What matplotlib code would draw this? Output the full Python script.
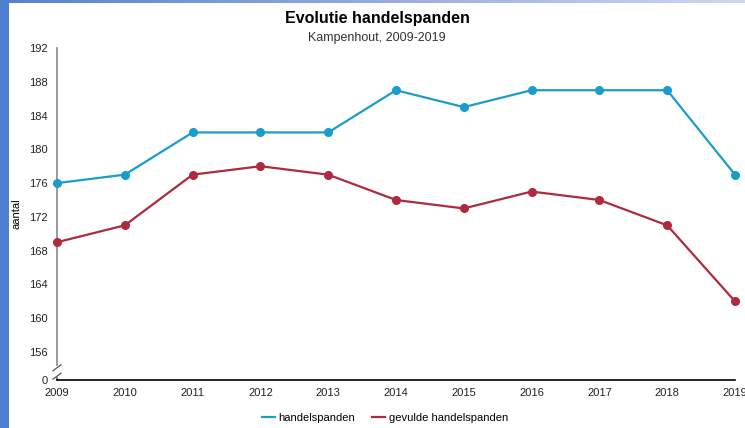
import numpy as np
import matplotlib
matplotlib.use('Agg')
import matplotlib.pyplot as plt
from matplotlib.patches import Rectangle

# Data
years = [2009, 2010, 2011, 2012, 2013, 2014, 2015, 2016, 2017, 2018, 2019]
handelspanden = [176, 177, 182, 182, 182, 187, 185, 187, 187, 187, 177]
gevuld = [169, 171, 177, 178, 177, 174, 173, 175, 174, 171, 162]
ytick_vals = [156, 160, 164, 168, 172, 176, 180, 184, 188, 192]

blue = '#1a9dcb'
red = '#ae2a3e'

W, H = 745, 428
fig = plt.figure(figsize=(W / 100, H / 100), dpi=100)
fig.patch.set_facecolor('white')

# frame decoration: blue left strip, gradient top strip
fig.patches.append(Rectangle((0, 0), 9 / W, 1, transform=fig.transFigure,
                             facecolor='#4f7fcf', edgecolor='none', zorder=0))
grad_ax = fig.add_axes([9 / W, 1 - 3 / H, 1 - 9 / W, 3 / H])
grad_ax.imshow(np.linspace(0, 1, 256).reshape(1, -1), aspect='auto',
               cmap=matplotlib.colors.LinearSegmentedColormap.from_list('g', ['#5a80d0', '#cdd8f0']))
grad_ax.axis('off')

# axes: x 2009 at px 57, 2019 at px 735; y 192 at px 48, axis bottom at px 380
left, right = 57, 735
top, bottom = 48, 380
aw = right - left
ax = fig.add_axes([left / W, 1 - bottom / H, aw / W, (bottom - top) / H])

px_per_unit = (352 - 48) / 36.0
y_zero = 156 - (380 - 352) / px_per_unit  # broken axis: 0 shown here

ax.plot(years, handelspanden, color=blue, lw=1.6, marker='o', ms=5.5, clip_on=False,
        label='handelspanden', zorder=3)
ax.plot(years, gevuld, color=red, lw=1.6, marker='o', ms=5.5, clip_on=False,
        label='gevulde handelspanden', zorder=3)

ax.set_xlim(2009, 2019)
ax.set_ylim(y_zero, 192)
ax.set_xticks(years)
ax.set_xticklabels([str(y) for y in years], fontsize=8, family='Liberation Sans', color='#222222')
ax.set_yticks([y_zero] + ytick_vals)
ax.set_yticklabels(['0'] + [str(v) for v in ytick_vals], fontsize=8, family='Liberation Sans', color='#222222')
ax.tick_params(axis='both', length=0, pad=6)
ax.tick_params(axis='y', pad=6.5)

for s in ['top', 'right']:
    ax.spines[s].set_visible(False)
ax.spines['bottom'].set_color('black')
ax.spines['bottom'].set_linewidth(1.2)
ax.spines['left'].set_color('#888888')
ax.spines['left'].set_linewidth(1.2)
ax.spines['left'].set_bounds(y_zero + 1.75, 192)

# break marks on y axis (pixel-sized offsets)
dx = 4.0 / aw
dy = 3.0 / px_per_unit
for yb in [y_zero + 0.45, y_zero + 1.45]:
    ax.plot([-dx, dx], [yb - dy, yb + dy], transform=ax.get_yaxis_transform(),
            color='#555555', lw=0.9, clip_on=False)
ax.plot([0, 0], [y_zero, y_zero + 0.2], transform=ax.get_yaxis_transform(),
        color='#555555', lw=1.2, clip_on=False)

ax.set_ylabel('aantal', fontsize=8, family='Liberation Sans')
ax.yaxis.set_label_coords(-36 / aw, 0.5)

fig.text(377 / W, 1 - 18 / H, 'Evolutie handelspanden', ha='center', va='center',
         fontsize=11.5, fontweight='bold', family='Liberation Sans')
fig.text(377 / W, 1 - 38 / H, 'Kampenhout, 2009-2019', ha='center', va='center',
         fontsize=9, family='Liberation Sans', color='#333333')

leg = fig.legend(loc='center', bbox_to_anchor=(385 / W, 1 - 418 / H), ncol=2, frameon=False,
                 prop={'family': 'Liberation Sans', 'size': 8}, handlelength=1.2,
                 handletextpad=0.3, columnspacing=1.5, markerscale=0)
for line in leg.get_lines():
    line.set_marker('')

plt.savefig('out.png', dpi=100)
plt.close()
